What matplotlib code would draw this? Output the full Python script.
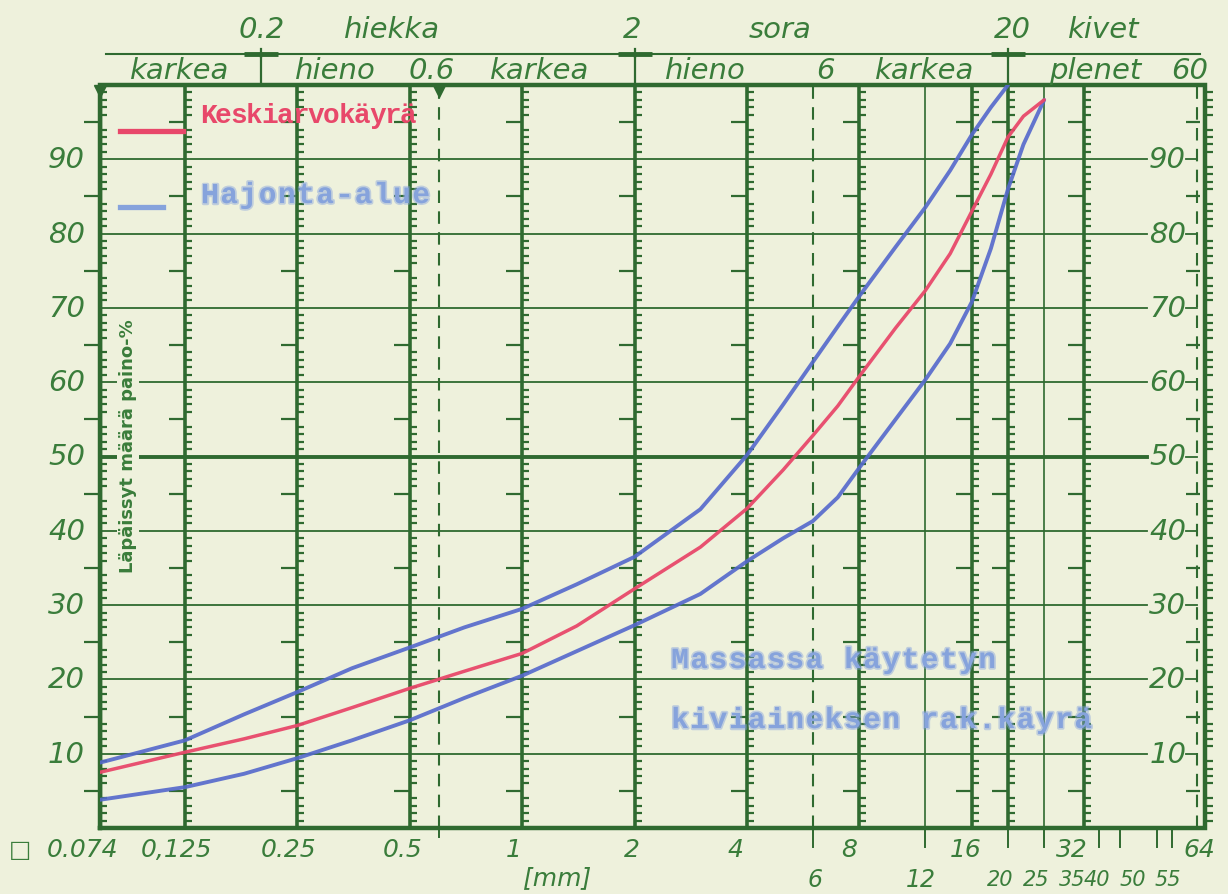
import matplotlib
matplotlib.use("Agg")
import matplotlib.pyplot as plt
import matplotlib.patheffects as pe
from matplotlib.collections import LineCollection

# ---- grading data: sieve size (mm) vs. passing (weight-%) ----
mean_sizes = [0.074, 0.125, 0.18, 0.25, 0.35, 0.5, 0.7, 1, 1.4, 2, 3, 4, 5, 6, 7,
              8, 10, 12, 14, 16, 18, 20, 22, 25]
mean_curve = [7.5, 10.2, 12.0, 13.8, 16.2, 18.8, 21.1, 23.5, 27.2, 32.2, 37.8,
              43.0, 48.2, 52.8, 56.8, 60.8, 67.3, 72.3, 77.3, 83.0, 88.0, 93.0,
              95.8, 98.0]
lower_sizes = [0.074, 0.125, 0.18, 0.25, 0.35, 0.5, 0.7, 1, 1.4, 2, 3, 4, 5, 6, 7,
               8, 10, 12, 14, 16, 18, 20, 22, 25]
lower_curve = [3.8, 5.5, 7.3, 9.4, 11.8, 14.5, 17.5, 20.5, 23.8, 27.3, 31.5,
               35.9, 39.0, 41.3, 44.5, 48.5, 55.0, 60.3, 65.2, 70.8, 78.0, 86.0,
               92.0, 98.0]
upper_sizes = [0.074, 0.125, 0.18, 0.25, 0.35, 0.5, 0.7, 1, 1.4, 2, 3, 4, 5, 6, 7,
               8, 10, 12, 14, 16, 18, 20]
upper_curve = [8.8, 11.8, 15.3, 18.3, 21.5, 24.3, 27.0, 29.5, 32.8, 36.5, 42.9,
               50.2, 57.0, 62.7, 67.5, 71.6, 78.2, 83.5, 88.5, 93.3, 97.0, 100.0]

# ---- axis furniture ----
comb_sieves = [0.074, 0.125, 0.25, 0.5, 1, 2, 4, 8, 16, 20, 32]
thin_sieves = [12, 25]
dashed_sieves = [0.6, 6]
last_sieve = 64
bottom_labels = ["0.074", "0,125", "0.25", "0.5", "1", "2", "4", "8", "16", "32", "64"]
bottom_label_sieves = [0.074, 0.125, 0.25, 0.5, 1, 2, 4, 8, 16, 32, 64]
extra_labels = ["6", "12", "20", "25", "35", "40", "50", "55"]
extra_sieves = [6, 12, 20, 25, 35, 40, 50, 55]
y_labels = [10, 20, 30, 40, 50, 60, 70, 80, 90]
class_bounds = [0.2, 2, 20]

BG = "#eef1dc"
GREEN = "#2f6a30"
TGREEN = "#3a7d3b"
RED = "#e8486a"
BLUE = "#5468cc"
TBLUE = "#86a3dc"

W, H = 1228, 895
AX_L, AX_R, AX_T, AX_B = 100, 1205, 86, 829
PX_OCT = 112.4                    # pixels per doubling of grain size
PX_PCT = (AX_B - AX_T) / 100.0    # pixels per percent
X0 = 0.074
XMAX = X0 * 2 ** ((AX_R - AX_L) / PX_OCT)

fig = plt.figure(figsize=(W / 100, H / 100), dpi=100, facecolor=BG)
ax = fig.add_axes([AX_L / W, 1 - AX_B / H, (AX_R - AX_L) / W, (AX_B - AX_T) / H])
ax.set_facecolor(BG)
ax.set_xscale("log")
ax.set_xlim(X0, XMAX)
ax.set_ylim(0, 100)
ax.axis("off")


def xo(x, dpx):
    """shift a grain size by a pixel offset on the log axis"""
    return x * 2 ** (dpx / PX_OCT)


def yo(y, dpx):
    return y + dpx / PX_PCT


def ftext(px, py, s, **kw):
    fig.text(px / W, 1 - py / H, s, **kw)


hand = dict(color=TGREEN, family="DejaVu Sans", style="oblique")

# ---- horizontal grid ----
x_grid_end = xo(last_sieve, -50)
for p in y_labels:
    lw = 2.8 if p == 50 else 1.3
    ax.plot([X0, x_grid_end], [p, p], color=GREEN, lw=lw, zorder=1)
    ax.plot([xo(last_sieve, -11), last_sieve], [p, p], color=GREEN, lw=1.3, zorder=1)
    ax.text(xo(last_sieve, -29), p, str(p), ha="center", va="center",
            fontsize=21, zorder=3, **hand)
    ax.text(xo(X0, -15), p, str(p), ha="right", va="center",
            fontsize=21, clip_on=False, **hand)

# ---- vertical sieve lines with percent combs ----
segs_short, segs_long = [], []
for xc in comb_sieves:
    ax.plot([xc, xc], [0, 100], color=GREEN, lw=2.6 if xc != X0 else 3.2,
            zorder=2, solid_capstyle="butt")
    for p in range(1, 100):
        if p % 10 == 0:
            continue
        if p % 5 == 0:
            segs_long.append([(xo(xc, -16), p), (xc, p)])
        else:
            segs_short.append([(xc, p), (xo(xc, 7), p)])
for p in range(1, 100):
    if p % 10 == 0:
        continue
    if p % 5 == 0:
        segs_long.append([(xo(last_sieve, -11), p), (xo(last_sieve, 3), p)])
    else:
        segs_short.append([(XMAX, p), (xo(XMAX, 8), p)])
ax.add_collection(LineCollection(segs_short, colors=GREEN, linewidths=1.6,
                                 zorder=2, clip_on=False))
ax.add_collection(LineCollection(segs_long, colors=GREEN, linewidths=1.6,
                                 zorder=2, clip_on=False))

for xc in thin_sieves:
    ax.plot([xc, xc], [0, 100], color=GREEN, lw=1.2, zorder=1)
for xc in dashed_sieves + [last_sieve]:
    ax.plot([xc, xc], [0, 100], color=GREEN, lw=1.5, zorder=1,
            linestyle=(0, (6, 4)))

# frame
ax.plot([X0, XMAX, XMAX, X0, X0], [0, 0, 100, 100, 0], color=GREEN, lw=3.2,
        zorder=4, clip_on=False, solid_joinstyle="miter")
ax.plot([X0, 0.6], [yo(100, -6)] * 2, color=GREEN, marker="v", markersize=9,
        linestyle="none", clip_on=False, zorder=5)

# ticks below the axis
for xc in extra_sieves:
    ax.plot([xc, xc], [0, yo(0, -19)], color=GREEN, lw=1.4, clip_on=False)
ax.plot([0.6, 0.6], [0, yo(0, -9)], color=GREEN, lw=1.4, clip_on=False)

# ---- curves ----
ax.plot(upper_sizes, upper_curve, color=BLUE, lw=2.8, alpha=0.9, zorder=6,
        solid_capstyle="round", solid_joinstyle="round")
ax.plot(lower_sizes, lower_curve, color=BLUE, lw=2.8, alpha=0.9, zorder=6,
        solid_capstyle="round", solid_joinstyle="round")
ax.plot(mean_sizes, mean_curve, color=RED, lw=2.5, alpha=0.95, zorder=6,
        solid_capstyle="round", solid_joinstyle="round")

# ---- bottom size labels ----
label_offsets = [-17, -9, -9, -7, -8, -3, -12, -10, -6, -12, 3]
for s, xc, d in zip(bottom_labels, bottom_label_sieves, label_offsets):
    ax.text(xo(xc, d), yo(0, -21), s, ha="center", va="center", fontsize=18,
            clip_on=False, **hand)
ftext(20, 850, "\u25a1", ha="center", va="center", fontsize=17, color=TGREEN)
extra_pos = [815, 921, 1000, 1036, 1072, 1097, 1133, 1168]
extra_size = [17, 17, 15, 15, 15, 15, 15, 15]
for s, px, fs in zip(extra_labels, extra_pos, extra_size):
    ftext(px, 880, s, ha="center", va="center", fontsize=fs, **hand)
ftext(557, 878, "[mm]", ha="center", va="center", fontsize=18, **hand)

# ---- y axis title ----
ftext(128, 446, "Läpäissyt määrä paino-%", rotation=90, ha="center", va="center",
      fontsize=13, color=TGREEN, family="DejaVu Sans", weight="bold",
      bbox=dict(facecolor=BG, edgecolor="none", pad=1.5), zorder=5)

# ---- fraction header ----
y_head = yo(100, 31)
ax.plot([xo(X0, 6), xo(last_sieve, 3)], [y_head, y_head], color=GREEN, lw=1.5,
        clip_on=False)
for xb in class_bounds:
    ax.plot([xb, xb], [100, y_head], color=GREEN, lw=1.6, clip_on=False)
    ax.plot([xo(xb, -17), xo(xb, 17)], [y_head, y_head], color=GREEN, lw=3.5,
            clip_on=False, solid_capstyle="butt")
    ax.plot([xb, xb], [yo(y_head, -3), yo(y_head, 5)], color=GREEN, lw=1.6,
            clip_on=False)

row1 = [(262, "0.2"), (392, "hiekka"), (632, "2"), (780, "sora"),
        (1012, "20"), (1104, "kivet")]
for px, s in row1:
    ftext(px, 30, s, ha="center", va="center", fontsize=21, **hand)
row2 = [(180, "karkea"), (335, "hieno"), (432, "0.6"), (540, "karkea"),
        (705, "hieno"), (825, "6"), (925, "karkea"), (1095, "plenet"),
        (1190, "60")]
for px, s in row2:
    ftext(px, 71, s, ha="center", va="center", fontsize=21, **hand)

# ---- typed legend and notes ----
def typed(px, py, s, pitch, color, size, fuzz=False):
    effects = None
    if fuzz:
        effects = [pe.Stroke(linewidth=2.5, foreground=color, alpha=0.45),
                   pe.Normal()]
    for i, ch in enumerate(s):
        fig.text((px + i * pitch) / W, 1 - py / H, ch, ha="center",
                 va="center", fontsize=size, color=color,
                 family="Liberation Mono", weight="bold", zorder=7,
                 path_effects=effects)


fig.lines.append(plt.Line2D([120 / W, 183 / W], [1 - 132 / H] * 2, color=RED,
                            lw=3.8, transform=fig.transFigure))
fig.lines.append(plt.Line2D([120 / W, 163 / W], [1 - 208 / H] * 2, color=TBLUE,
                            lw=3.8, transform=fig.transFigure))
typed(208, 116, "Keskiarvokäyrä", 15.4, RED, 20)
typed(210, 196, "Hajonta-alue", 19.2, TBLUE, 21, fuzz=True)
typed(680, 661, "Massassa käytetyn", 19.2, TBLUE, 21, fuzz=True)
typed(680, 721, "kiviaineksen rak.käyrä", 19.2, TBLUE, 21, fuzz=True)

fig.savefig("out.png", dpi=100, facecolor=BG)
